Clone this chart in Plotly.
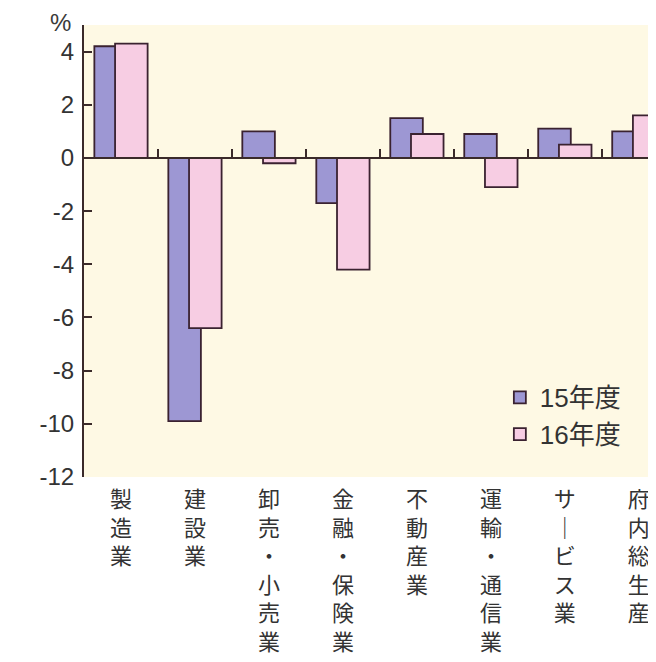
import plotly.graph_objects as go

categories = ['製造業', '建設業', '卸売・小売業', '金融・保険業', '不動産業', '運輸・通信業', 'サービス業', '府内総生産']
fy15 = [4.2, -9.9, 1.0, -1.7, 1.5, 0.9, 1.1, 1.0]
fy16 = [4.3, -6.4, -0.2, -4.2, 0.9, -1.1, 0.5, 1.6]
y_ticks = [4, 2, 0, -2, -4, -6, -8, -10, -12]

y_min, y_max = -12, 5
x_range = [-0.5, 7.34]

# labels are written top to bottom, one character per line
vertical_labels = ['<br>'.join(c.replace('ー', '｜')) for c in categories]

font_family = 'Liberation Sans, Arial, Noto Sans CJK JP, sans-serif'
edge = dict(color='#3a2230', width=1.8)

fig = go.Figure()

fig.add_trace(go.Bar(
    x=categories,
    y=fy15,
    name='15年度',
    marker=dict(color='#9d97d3', line=edge),
    width=0.44,
    offset=-0.36,
))

fig.add_trace(go.Bar(
    x=categories,
    y=fy16,
    name='16年度',
    xaxis='x2',
    marker=dict(color='#f7cde3', line=edge),
    width=0.44,
    offset=-0.08,
))

fig.add_annotation(
    text='%', xref='paper', yref='paper', x=-0.041, y=0.972,
    xanchor='center', yanchor='bottom', showarrow=False,
    font=dict(size=24, color='#3a3a3a', family=font_family),
)

# the page body adds 8px on the left and top, so margins are set 8px smaller
fig.update_layout(
    width=656,
    height=662,
    margin=dict(l=76, r=0, t=17, b=193),
    paper_bgcolor='white',
    plot_bgcolor='#fef9e4',
    font=dict(family=font_family, color='#333333'),
    showlegend=True,
    legend=dict(
        x=0.717, y=0.228, xanchor='left', yanchor='top',
        bgcolor='rgba(0,0,0,0)',
        font=dict(size=26, color='#333333', family=font_family),
        tracegroupgap=0,
    ),
    xaxis=dict(
        type='category',
        range=x_range,
        tickvals=categories,
        ticktext=vertical_labels,
        tickfont=dict(size=22, color='#333333'),
        showline=False,
        showgrid=False,
        zeroline=False,
        ticks='',
        tickangle=0,
        automargin=False,
        ticklabelstandoff=7,
    ),
    xaxis2=dict(
        type='category',
        overlaying='x',
        anchor='free',
        position=(0 - y_min) / (y_max - y_min),
        range=x_range,
        showticklabels=False,
        showgrid=False,
        zeroline=False,
        showline=True,
        linecolor='#3a2a2a',
        linewidth=2,
        tickson='boundaries',
        ticks='inside',
        ticklen=8,
        tickwidth=2,
        tickcolor='#3a2a2a',
        automargin=False,
    ),
    yaxis=dict(
        range=[y_min, y_max],
        tickvals=y_ticks,
        ticktext=[str(v) for v in y_ticks],
        tickfont=dict(size=24, color='#333333'),
        showline=True,
        linecolor='#3a2a2a',
        linewidth=2,
        ticks='inside',
        ticklen=8,
        tickwidth=2,
        tickcolor='#3a2a2a',
        ticklabelstandoff=3,
        showgrid=False,
        zeroline=False,
        automargin=False,
    ),
)

fig.write_html('out.html')
